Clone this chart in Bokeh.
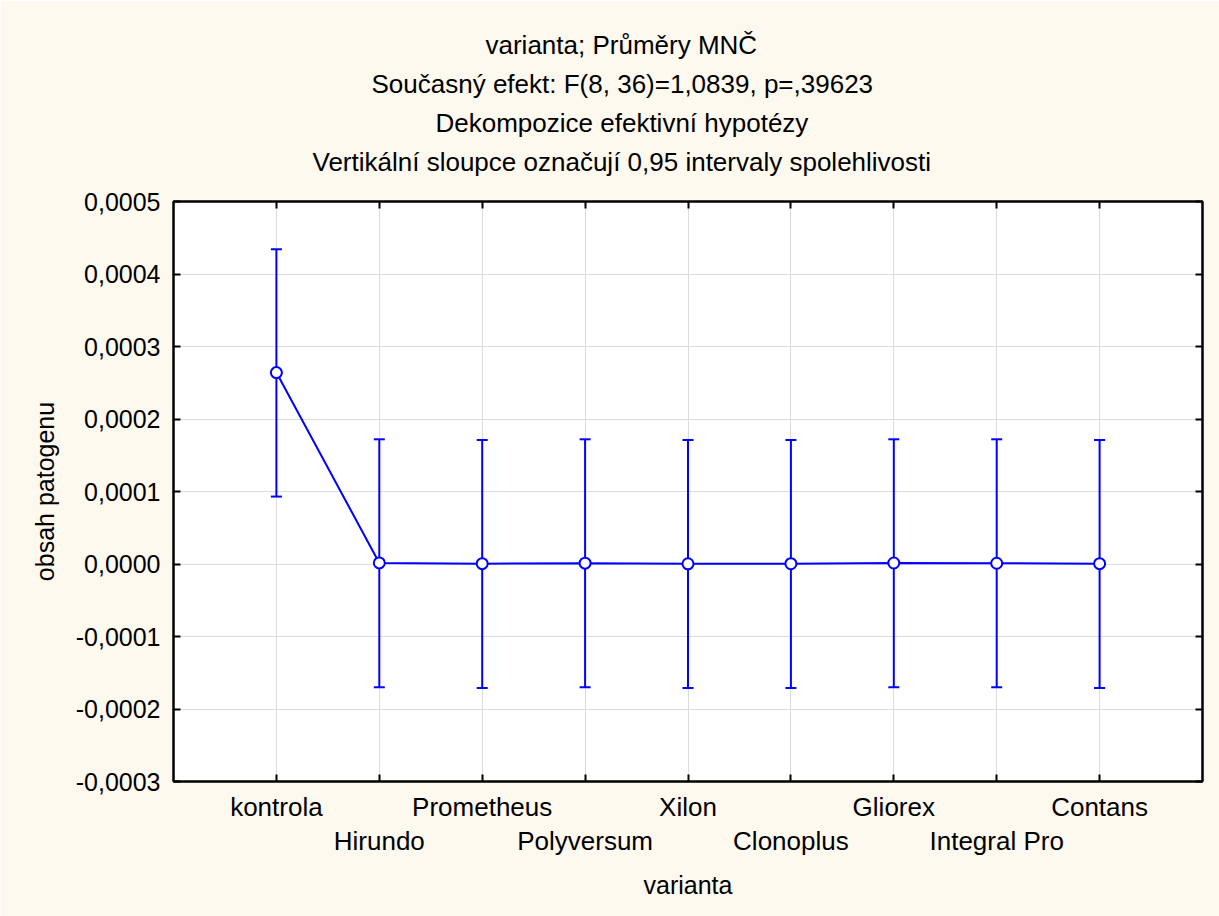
from bokeh.plotting import figure
from bokeh.models import (ColumnDataSource, Whisker, TeeHead, LinearAxis, FixedTicker,
                          CustomJSTickFormatter, Title, Range1d)
from bokeh.embed import file_html
from bokeh.resources import INLINE

categories = ["kontrola", "Hirundo", "Prometheus", "Polyversum", "Xilon",
              "Clonoplus", "Gliorex", "Integral Pro", "Contans"]
means = [0.000264, 0.0000015, 0.0000005, 0.0000012, 0.0000003,
         0.0000004, 0.0000014, 0.0000010, 0.0000005]
upper = [0.000434, 0.000172, 0.000171, 0.000172, 0.000171,
         0.000171, 0.000172, 0.000172, 0.000171]
lower = [0.000093, -0.000170, -0.000171, -0.000170, -0.000171,
         -0.000171, -0.000170, -0.000170, -0.000171]
y_ticks = [-0.0003, -0.0002, -0.0001, 0.0, 0.0001, 0.0002, 0.0003, 0.0004, 0.0005]
title_lines = ["varianta; Průměry MNČ",
               "Současný efekt: F(8, 36)=1,0839, p=,39623",
               "Dekompozice efektivní hypotézy",
               "Vertikální sloupce označují 0,95 intervaly spolehlivosti"]
x_label = "varianta"
y_label = "obsah patogenu"

# layout: left offsets (px from frame's left edge) that centre each title line at x~621
title_offsets = [312, 198, 262, 139]

FONT = "Liberation Sans"
BLUE = "#0000FF"
BG = "#FDF9EF"

xs = list(range(len(categories)))
src = ColumnDataSource(dict(x=xs, mean=means, upper=upper, lower=lower))

x0, x1 = -1, len(categories)
p = figure(width=1219, height=916, output_backend="svg", toolbar_location=None,
           x_range=Range1d(x0, x1), y_range=Range1d(y_ticks[0], y_ticks[-1]),
           min_border_left=173, min_border_right=17, min_border_top=201, min_border_bottom=135,
           background_fill_color="white", border_fill_color=BG, title=None)
p.outline_line_color = "black"
p.outline_line_width = 2

# grids
p.xgrid.ticker = FixedTicker(ticks=xs)
p.ygrid.ticker = FixedTicker(ticks=y_ticks)
for g in (p.xgrid, p.ygrid):
    g.grid_line_color = "#DCDCDC"
    g.grid_line_width = 1

fmt = CustomJSTickFormatter(code="""
    var v = Math.abs(tick) < 1e-12 ? 0 : tick;
    return v.toFixed(4).replace('.', ',');
""")

# left axis
ya = p.yaxis[0]
ya.ticker = FixedTicker(ticks=y_ticks)
ya.formatter = fmt
ya.axis_label = y_label
ya.axis_label_text_font = FONT
ya.axis_label_text_font_size = "25px"
ya.axis_label_text_font_style = "normal"
ya.axis_label_text_color = "black"
ya.axis_label_standoff = 14
ya.major_label_text_font = FONT
ya.major_label_text_font_size = "25px"
ya.major_label_text_color = "black"
ya.major_label_standoff = 13
ya.major_tick_in = 7
ya.major_tick_out = 0
ya.minor_tick_line_color = None
ya.axis_line_width = 2
ya.major_tick_line_width = 2

# bottom axis (row 1: even indices)
xa = p.xaxis[0]
xa.ticker = FixedTicker(ticks=xs)
xa.major_label_overrides = {i: (c if i % 2 == 0 else "") for i, c in enumerate(categories)}
xa.major_label_text_font = FONT
xa.major_label_text_font_size = "26px"
xa.major_label_text_color = "black"
xa.major_label_standoff = 10
xa.major_tick_in = 7
xa.major_tick_out = 0
xa.minor_tick_line_color = None
xa.axis_line_width = 2
xa.major_tick_line_width = 2

# bottom axis row 2 (odd indices)
odd = [i for i in xs if i % 2 == 1]
xa2 = LinearAxis(ticker=FixedTicker(ticks=odd),
                 major_label_overrides={i: categories[i] for i in odd},
                 major_label_text_font=FONT, major_label_text_font_size="26px",
                 major_label_text_color="black",
                 major_label_standoff=-5,
                 axis_line_color=None, major_tick_line_color=None, minor_tick_line_color=None,
                 axis_label=x_label, axis_label_text_font=FONT, axis_label_text_color="black",
                 axis_label_text_font_size="25px", axis_label_text_font_style="normal",
                 axis_label_standoff=12)
p.add_layout(xa2, "below")

# top and right axes: ticks only
top = LinearAxis(ticker=FixedTicker(ticks=xs), major_label_text_font_size="0px",
                 major_label_standoff=0, major_tick_in=7, major_tick_out=0,
                 minor_tick_line_color=None, axis_line_width=2, major_tick_line_width=2)
top.major_label_overrides = {i: "" for i in xs}
p.add_layout(top, "above")
# invisible spacer between the frame and the title block
spacer = LinearAxis(ticker=FixedTicker(ticks=xs), major_label_text_font_size="0px",
                    major_label_standoff=0, major_tick_in=0, major_tick_out=21,
                    axis_line_color=None, major_tick_line_color=None, minor_tick_line_color=None)
spacer.major_label_overrides = {i: "" for i in xs}
p.add_layout(spacer, "above")
right = LinearAxis(ticker=FixedTicker(ticks=y_ticks), major_label_text_font_size="0px",
                   major_label_standoff=0, major_tick_in=7, major_tick_out=0,
                   minor_tick_line_color=None, axis_line_width=2, major_tick_line_width=2)
right.major_label_overrides = {t: "" for t in y_ticks}
p.add_layout(right, "right")

# titles (added from closest to plot outward)
for line, off in reversed(list(zip(title_lines, title_offsets))):
    p.add_layout(Title(text=line, align="left", offset=off, text_font=FONT,
                       text_font_size="26px", text_font_style="normal",
                       text_color="black", standoff=7), "above")

# data
w = Whisker(base="x", upper="upper", lower="lower", source=src,
            line_color=BLUE, line_width=2,
            upper_head=TeeHead(size=11, line_color=BLUE, line_width=2),
            lower_head=TeeHead(size=11, line_color=BLUE, line_width=2))
p.add_layout(w)
p.line("x", "mean", source=src, line_color=BLUE, line_width=2)
p.scatter("x", "mean", source=src, marker="circle", size=11, fill_color="white",
          line_color=BLUE, line_width=2)

open("out.html", "w").write(file_html(p, INLINE))
